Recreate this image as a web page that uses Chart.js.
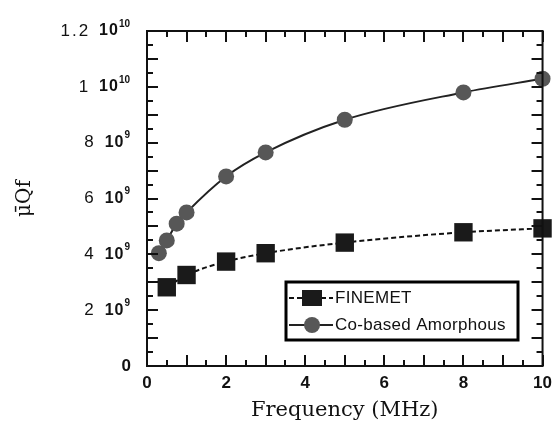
<!DOCTYPE html>
<html>
<head>
    <title>uQf vs Frequency</title>
    <script src="https://cdn.jsdelivr.net/npm/chart.js"></script>
    <style>
        body { margin: 0; background: #fff; }
        #wrap { width: 559px; height: 423px; position: relative; }
    </style>
</head>
<body>
    <div id="wrap"><canvas id="chart"></canvas></div>

    <script>
        // valori (frequenza in MHz, uQf)
        const finemetFreq = [0.5, 1, 2, 3, 5, 8, 10];
        const finemetQf = [2.82e9, 3.26e9, 3.74e9, 4.04e9, 4.42e9, 4.79e9, 4.93e9];
        const coFreq = [0.3, 0.5, 0.75, 1, 2, 3, 5, 8, 10];
        const coQf = [4.04e9, 4.5e9, 5.1e9, 5.5e9, 6.79e9, 7.65e9, 8.82e9, 9.8e9, 10.29e9];
        const seriesNames = ['FINEMET', 'Co-based Amorphous'];
        const yTickMant = ['0', '2', '4', '6', '8', '1', '1.2'];
        const yTickExp = ['', '9', '9', '9', '9', '10', '10'];
        const xTitle = 'Frequency (MHz)';
        const yTitle = 'μ\u0304Qf';

        const NARROW = '"Liberation Sans Narrow", "Liberation Sans", sans-serif';
        const toPts = (xs, ys) => xs.map((x, i) => ({ x: x, y: ys[i] }));

        // tacche verso l'interno su tutti e quattro i lati + cornice + etichette y + legenda
        const framePlugin = {
            id: 'frame',
            afterDraw(chart) {
                const ctx = chart.ctx;
                const a = chart.chartArea;
                const xs = chart.scales.x, ys = chart.scales.y;
                ctx.save();
                ctx.strokeStyle = '#111';
                ctx.lineWidth = 2;
                for (let v = 0; v <= 10.001; v += 0.5) {
                    const px = Math.round(xs.getPixelForValue(v));
                    const len = Number.isInteger(v) ? 11 : 6;
                    ctx.beginPath();
                    ctx.moveTo(px, a.bottom); ctx.lineTo(px, a.bottom - len);
                    ctx.moveTo(px, a.top); ctx.lineTo(px, a.top + len);
                    ctx.stroke();
                }
                for (let v = 0; v <= 12.001e9; v += 0.5e9) {
                    const py = Math.round(ys.getPixelForValue(v));
                    const len = (Math.round(v / 0.5e9) % 2 === 0) ? 11 : 6;
                    ctx.beginPath();
                    ctx.moveTo(a.left, py); ctx.lineTo(a.left + len, py);
                    ctx.moveTo(a.right, py); ctx.lineTo(a.right - len, py);
                    ctx.stroke();
                }
                ctx.strokeRect(a.left, a.top, a.right - a.left, a.bottom - a.top);

                // etichette asse y con esponente
                ctx.fillStyle = '#111';
                ctx.textBaseline = 'middle';
                ys.ticks.forEach((t, i) => {
                    const py = ys.getPixelForValue(t.value);
                    const m = yTickMant[i], e = yTickExp[i];
                    const right = a.left - 17;
                    ctx.textAlign = 'right';
                    if (e) {
                        ctx.font = 'bold 10px ' + NARROW;
                        const ew = ctx.measureText(e).width;
                        ctx.fillText(e, right, py - 7);
                        ctx.font = 'bold 16px ' + NARROW;
                        ctx.letterSpacing = '1px';
                        ctx.fillText('10', right - ew, py);
                        const bw = ctx.measureText('10').width;
                        ctx.font = '17px ' + NARROW;
                        ctx.letterSpacing = '2px';
                        ctx.fillText(m, right - ew - bw - 9, py);
                        ctx.letterSpacing = '0px';
                    } else {
                        ctx.font = 'bold 17px ' + NARROW;
                        ctx.fillText(m, right + 1, py);
                    }
                });

                // legenda dentro l'area del grafico
                const lx = 286, ly = 282, lw = 232, lh = 58;
                ctx.fillStyle = '#fff';
                ctx.fillRect(lx, ly, lw, lh);
                ctx.lineWidth = 3;
                ctx.strokeStyle = '#000';
                ctx.strokeRect(lx, ly, lw, lh);
                chart.data.datasets.forEach((ds, i) => {
                    const cy = ly + 16 + i * 27;
                    ctx.strokeStyle = ds.borderColor;
                    ctx.lineWidth = 2;
                    ctx.setLineDash(ds.borderDash || []);
                    ctx.beginPath();
                    ctx.moveTo(lx + 3, cy); ctx.lineTo(lx + 47, cy);
                    ctx.stroke();
                    ctx.setLineDash([]);
                    ctx.fillStyle = ds.pointBackgroundColor;
                    if (ds.pointStyle === 'rect') {
                        ctx.fillRect(lx + 16, cy - 8, 20, 16);
                    } else {
                        ctx.beginPath();
                        ctx.arc(lx + 26, cy, 8, 0, Math.PI * 2);
                        ctx.fill();
                    }
                    ctx.fillStyle = '#111';
                    ctx.textAlign = 'left';
                    ctx.font = '17px ' + NARROW;
                    ctx.letterSpacing = '0.3px';
                    ctx.fillText(ds.label, lx + 49, cy);
                    ctx.letterSpacing = '0px';
                });
                ctx.restore();
            }
        };

        const ctx = document.getElementById('chart').getContext('2d');
        new Chart(ctx, {
            type: 'line',
            data: {
                datasets: [
                    {
                        label: seriesNames[0],
                        data: toPts(finemetFreq, finemetQf),
                        borderColor: '#111',
                        borderWidth: 2,
                        borderDash: [5, 3],
                        pointStyle: 'rect',
                        pointRadius: 13,
                        pointBackgroundColor: '#1a1a1a',
                        pointBorderWidth: 0,
                        cubicInterpolationMode: 'monotone',
                    },
                    {
                        label: seriesNames[1],
                        data: toPts(coFreq, coQf),
                        borderColor: '#222',
                        borderWidth: 2,
                        pointStyle: 'circle',
                        pointRadius: 8,
                        pointBackgroundColor: '#575757',
                        pointBorderWidth: 0,
                        cubicInterpolationMode: 'monotone',
                    },
                ],
            },
            options: {
                responsive: true,
                maintainAspectRatio: false,
                animation: false,
                clip: false,
                layout: { padding: { top: 31, right: 11, left: 0, bottom: 0 } },
                plugins: {
                    legend: { display: false },
                    tooltip: { enabled: false },
                },
                scales: {
                    x: {
                        type: 'linear',
                        min: 0,
                        max: 10,
                        grid: { display: false, drawTicks: false },
                        border: { display: false },
                        ticks: {
                            stepSize: 2,
                            padding: 7,
                            color: '#111',
                            font: { family: NARROW, size: 17, weight: 'bold' },
                        },
                        title: {
                            display: true,
                            text: xTitle,
                            color: '#111',
                            font: { family: '"DejaVu Serif", serif', size: 21 },
                            padding: { top: 3, bottom: 0 },
                        },
                        afterFit(s) { s.height = 57; },
                    },
                    y: {
                        min: 0,
                        max: 1.2e10,
                        grid: { display: false, drawTicks: false },
                        border: { display: false },
                        ticks: {
                            stepSize: 2e9,
                            color: 'rgba(0,0,0,0)',
                            callback: () => '',
                        },
                        title: {
                            display: true,
                            text: yTitle,
                            color: '#111',
                            font: { family: '"DejaVu Serif", serif', size: 20 },
                            padding: { top: 13, bottom: 0 },
                        },
                        afterFit(s) { s.width = 147; },
                    },
                },
            },
            plugins: [framePlugin],
        });
    </script>
</body>
</html>
